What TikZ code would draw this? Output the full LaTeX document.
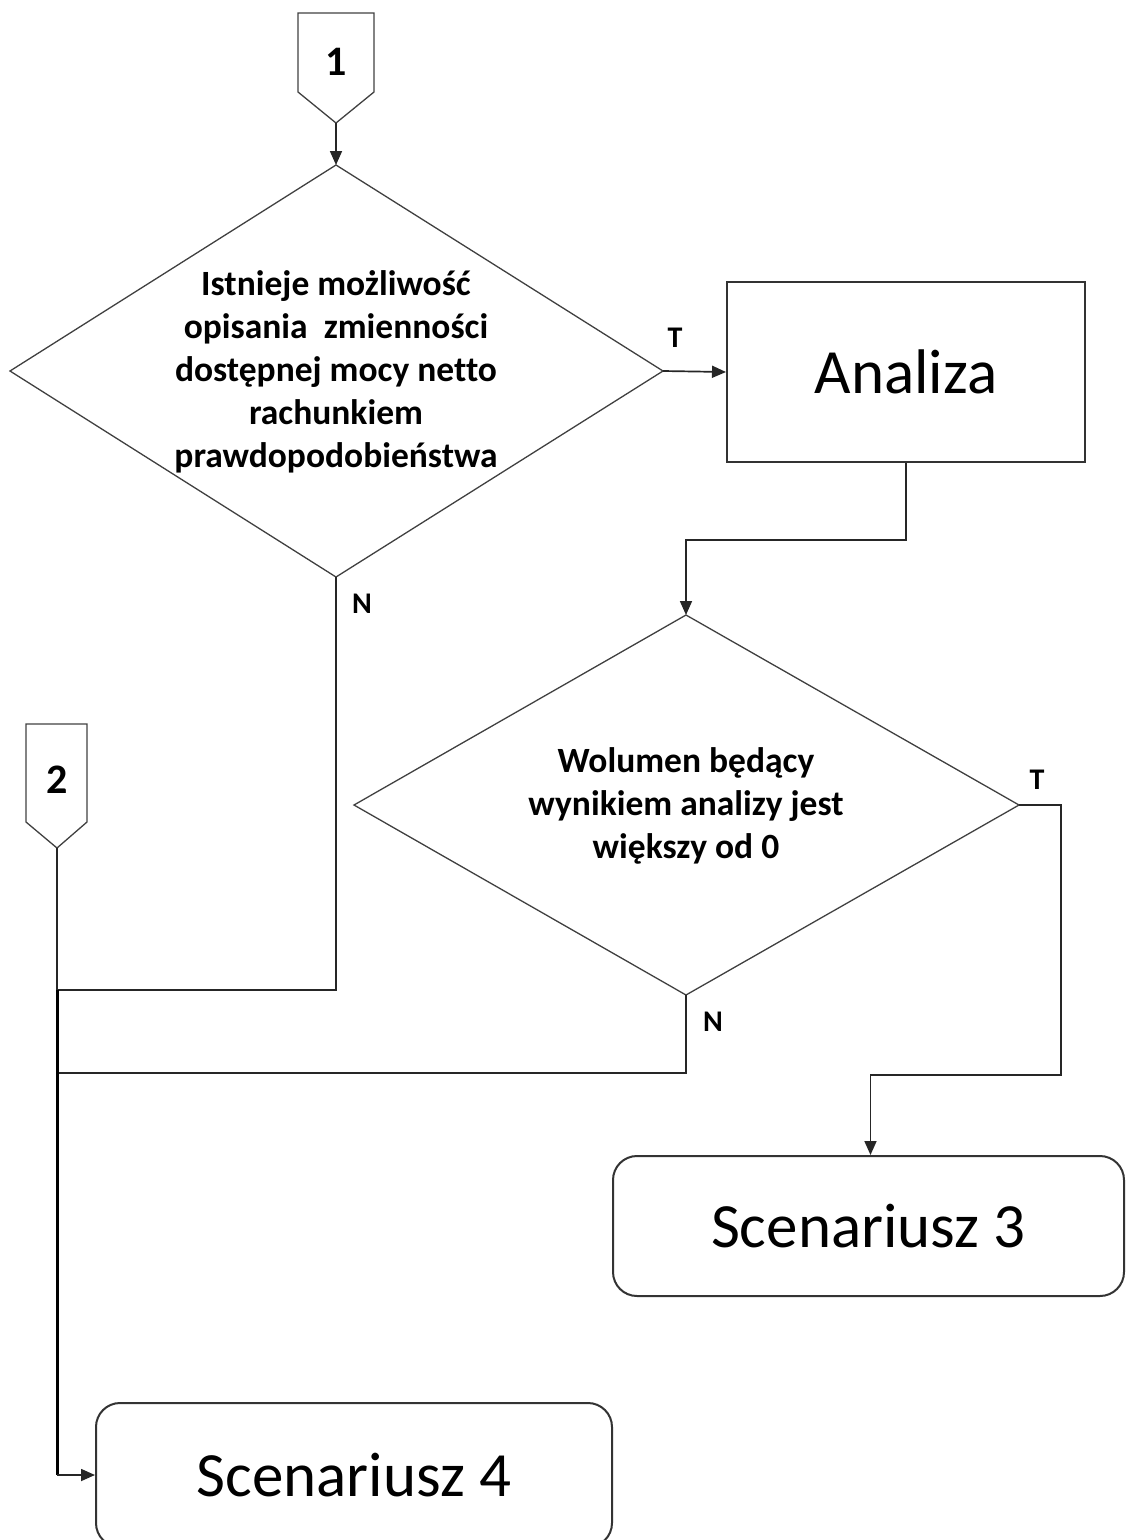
\documentclass[tikz,border=0pt]{standalone}
\usepackage{fontspec}
\setmainfont{Carlito}[Ligatures=NoCommon]
\usetikzlibrary{arrows.meta}
\begin{document}
\begin{tikzpicture}[x=1pt,y=-1pt,
  outline/.style={draw=black!75,line width=1.3pt},
  box/.style={draw=black!80,line width=2pt,inner sep=0pt,font=\fontsize{63}{74}\selectfont},
  roundbox/.style={box,rounded corners=24pt},
  qtext/.style={align=center,inner sep=0pt,font=\fontsize{35.5}{43}\selectfont\bfseries},
  lbl/.style={inner sep=0pt,font=\fontsize{30}{34}\selectfont\bfseries},
  numtext/.style={inner sep=0pt,font=\fontsize{42}{46}\selectfont\bfseries},
  link/.style={draw=black!85,line width=1.7pt},
  trunk/.style={draw=black,line width=3pt},
  arr/.style={link,-{Triangle[length=14pt,width=12pt]}}]
\useasboundingbox (0,0) rectangle (1126,1540);
\clip (0,0) rectangle (1126,1540);

% off-page connector 1
\draw[outline] (298,13) -- (374,13) -- (374,92) -- (336,123) -- (298,92) -- cycle;
\coordinate (c1tip) at (336,123);
\node[numtext] (c1) at (336,62) {1};

% off-page connector 2
\draw[outline] (26,724) -- (87,724) -- (87,822) -- (57,848) -- (26,822) -- cycle;
\coordinate (c2tip) at (57,848);
\node[numtext] (c2) at (57,780) {2};

% first decision
\coordinate (d1n) at (336,165);
\coordinate (d1e) at (663,371);
\coordinate (d1s) at (336,577);
\coordinate (d1w) at (10,371);
\draw[outline] (d1n) -- (d1e) -- (d1s) -- (d1w) -- cycle;
\node[qtext] (d1) at (336,372) {Istnieje możliwość\\opisania\ \ zmienności\\dostępnej mocy netto\\rachunkiem\\prawdopodobieństwa};

% analysis step
\node[box,minimum width=358pt,minimum height=180pt] (ana) at (906,372) {Analiza};

% second decision
\coordinate (d2n) at (686,615);
\coordinate (d2e) at (1019,805);
\coordinate (d2s) at (686,995);
\coordinate (d2w) at (354,805);
\draw[outline] (d2n) -- (d2e) -- (d2s) -- (d2w) -- cycle;
\node[qtext] (d2) at (686,806) {Wolumen będący\\wynikiem analizy jest\\większy od 0};

% outcomes
\node[roundbox,minimum width=511pt,minimum height=140pt] (sc3) at (868.5,1226) {Scenariusz 3};
\node[roundbox,minimum width=516pt,minimum height=144pt] (sc4) at (354,1475) {Scenariusz 4};

% branch labels
\node[lbl] (t1) at (675,338) {T};
\node[lbl] (n1) at (362,604) {N};
\node[lbl] (t2) at (1037,780) {T};
\node[lbl] (n2) at (713,1022) {N};

% connectors
\coordinate (j1) at (906,540);
\coordinate (j2) at (1061,805);
\coordinate (j3) at (1061,1075);
\coordinate (j4) at (336,990);
\coordinate (j5) at (57,990);
\coordinate (j6) at (686,1073);
\coordinate (j7) at (57,1073);
\coordinate (j8) at (57,1475);
\draw[arr] (c1tip) -- (d1n);
\draw[arr] (d1e) -- (ana.west);
\draw[arr] (ana.south) -- (j1) -| (d2n);
\draw[arr] (d2e) -- (j2) -- (j3) -| ([xshift=2pt]sc3.north);
\draw[link] (d1s) -- (j4) -- (j5);
\draw[link] (d2s) -- (j6) -- (j7);
\draw[link] (c2tip) -- (j5);
\draw[trunk] (j5) -- (j8);
\draw[arr] (j8) -- (j8 -| sc4.west);
\end{tikzpicture}
\end{document}
